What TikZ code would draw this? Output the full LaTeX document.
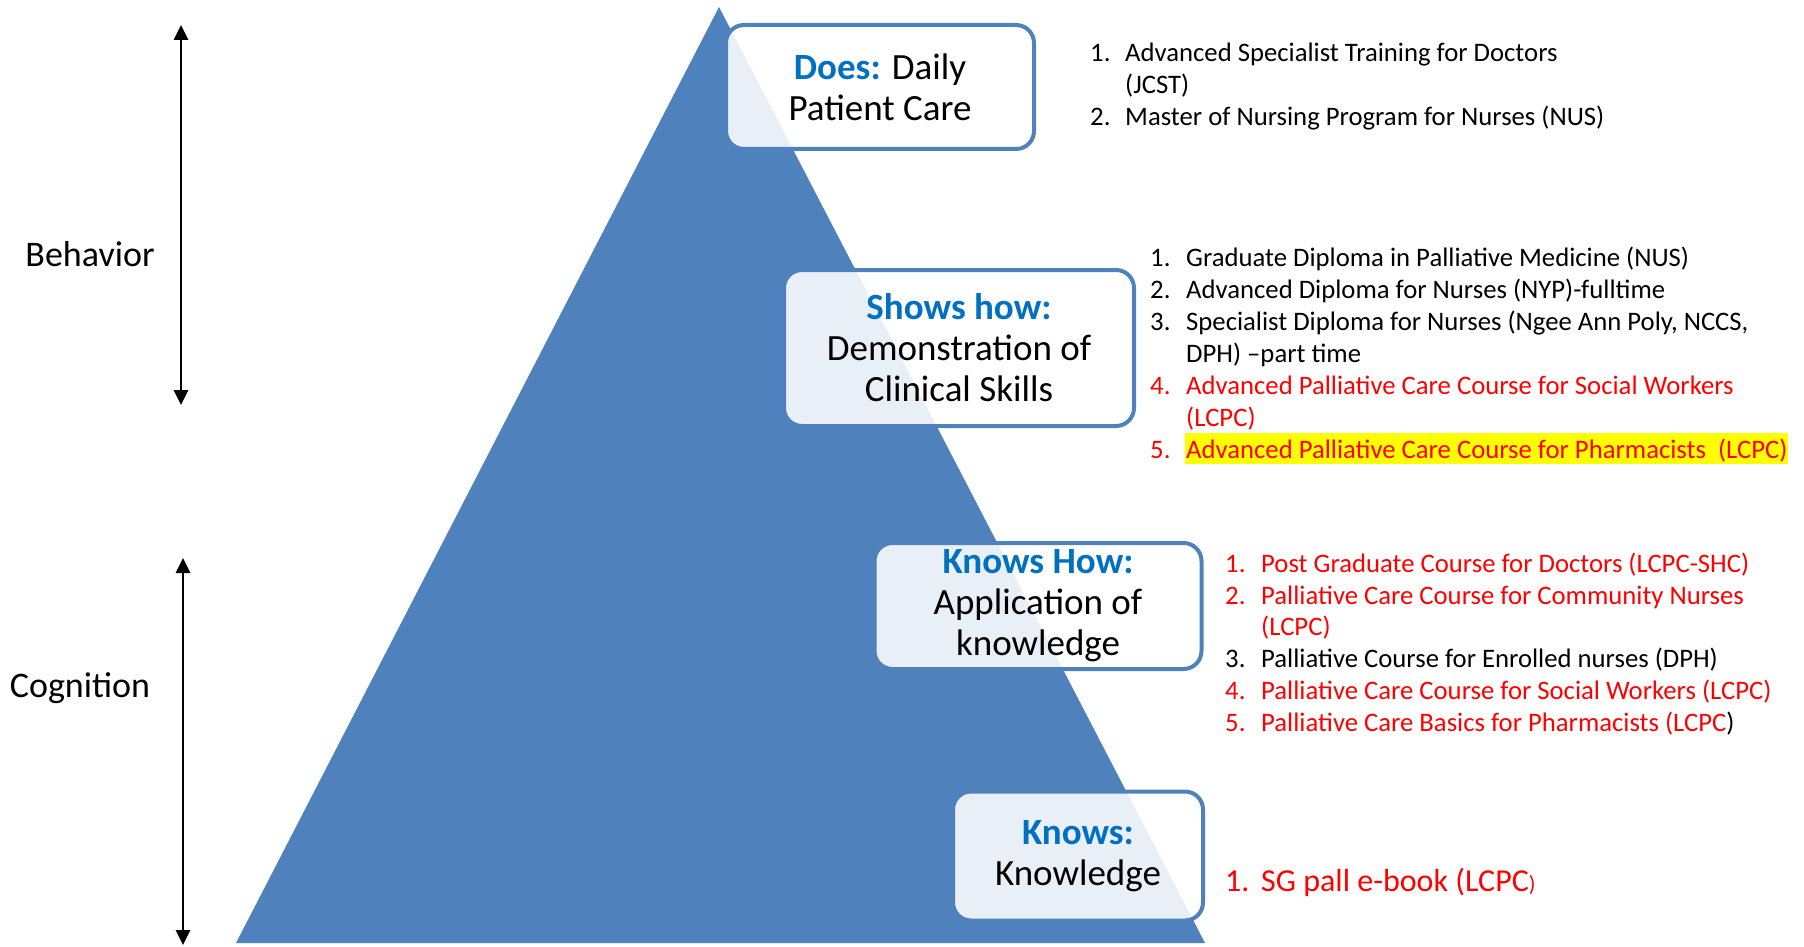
\documentclass[tikz,border=0pt]{standalone}
\usepackage{fontspec}
\setmainfont{Carlito}
\usetikzlibrary{arrows.meta}
\definecolor{triblue}{HTML}{4F81BD}
\definecolor{txtblue}{HTML}{0070C0}
\definecolor{txtred}{HTML}{FF0000}
\definecolor{hiyellow}{HTML}{FFFF00}
\newcommand{\boxfont}{\fontsize{37}{41}\selectfont}
\newcommand{\sidefont}{\fontsize{36}{41}\selectfont}
\newcommand{\listfont}{\fontsize{26.7}{32}\selectfont}
\newcommand{\bigfont}{\fontsize{32}{38}\selectfont}
\newcommand{\hd}[1]{{\color{txtblue}\bfseries #1}}
\begin{document}
\begin{tikzpicture}[x=1pt,y=-1pt,
  level/.style={draw=triblue, line width=4pt, rounded corners=18pt, fill=white,
    fill opacity=0.88, text opacity=1, align=center, font=\boxfont, inner sep=0pt},
  side/.style={font=\sidefont, inner sep=0pt},
  arr/.style={line width=2.6pt, {Triangle[length=15pt,width=14pt]}-{Triangle[length=15pt,width=14pt]}},
  item/.style={anchor=base west, inner sep=0pt, font=\listfont},
  bigitem/.style={anchor=base west, inner sep=0pt, font=\bigfont},
  red/.style={text=txtred}]
\useasboundingbox (0,0) rectangle (1804,947);
% pyramid
\path[fill=triblue] (719,7) -- (1205,943) -- (236,943) -- cycle;
% level boxes
\node[level, minimum width=308pt, minimum height=124pt] (does) at (880,87)
  {\hd{Does:} Daily\\Patient Care};
\node[level, minimum width=350pt, minimum height=156pt] (shows) at (959,348)
  {\hd{Shows how:}\\Demonstration of\\Clinical Skills};
\node[level, minimum width=327pt, minimum height=126pt] (knowshow) at (1038,606)
  {\hd{Knows How:}\\Application of\\knowledge};
\node[level, minimum width=250pt, minimum height=129pt] (knows) at (1078,856)
  {\hd{Knows:}\\Knowledge};
% side labels and arrows
\node[side] (behav) at (90,254) {Behavior};
\node[side] (cogn) at (80,688) {Cognition};
\coordinate (bt) at (181,25);
\coordinate (bb) at (181,405);
\coordinate (ct) at (183,558);
\coordinate (cb) at (183,945);
\draw[arr] (bt) -- (bb);
\draw[arr] (ct) -- (cb);
% list 1
\node[item] (a1n) at (1090,62) {1.};
\node[item] (a1) at (1125,62) {Advanced Specialist Training for Doctors};
\node[item] (a1b) at (1125,94) {(JCST)};
\node[item] (a2n) at (1090,126) {2.};
\node[item] (a2) at (1125,126) {Master of Nursing Program for Nurses (NUS)};
% list 2
\node[item] (b1n) at (1150,266) {1.};
\node[item] (b1) at (1186,266) {Graduate Diploma in Palliative Medicine (NUS)};
\node[item] (b2n) at (1150,298) {2.};
\node[item] (b2) at (1186,298) {Advanced Diploma for Nurses (NYP)-fulltime};
\node[item] (b3n) at (1150,330) {3.};
\node[item] (b3) at (1186,330) {Specialist Diploma for Nurses (Ngee Ann Poly, NCCS,};
\node[item] (b3b) at (1186,362) {DPH) --part time};
\node[item, red] (b4n) at (1150,394) {4.};
\node[item, red] (b4) at (1186,394) {Advanced Palliative Care Course for Social Workers};
\node[item, red] (b4b) at (1186,426) {(LCPC)};
\node[item, red] (b5n) at (1150,458) {5.};
\node[item, red, fill=hiyellow, inner ysep=0pt, inner xsep=1pt, text height=25pt, text depth=6pt] (b5) at (1185,458)
  {Advanced Palliative Care Course for Pharmacists~~(LCPC)};
% list 3
\node[item, red] (c1n) at (1225,572) {1.};
\node[item, red] (c1) at (1261,572) {Post Graduate Course for Doctors (LCPC-SHC)};
\node[item, red] (c2n) at (1225,604) {2.};
\node[item, red] (c2) at (1261,604) {Palliative Care Course for Community Nurses};
\node[item, red] (c2b) at (1261,635) {(LCPC)};
\node[item] (c3n) at (1225,667) {3.};
\node[item] (c3) at (1261,667) {Palliative Course for Enrolled nurses (DPH)};
\node[item, red] (c4n) at (1225,699) {4.};
\node[item, red] (c4) at (1261,699) {Palliative Care Course for Social Workers (LCPC)};
\node[item, red] (c5n) at (1225,731) {5.};
\node[item] (c5) at (1261,731) {\color{txtred}Palliative Care Basics for Pharmacists (LCPC\color{black})};
% list 4
\node[bigitem, red] (d1n) at (1225,891) {1.};
\node[bigitem, red] (d1) at (1261,891) {SG pall e-book (LCPC{\fontsize{22}{26}\selectfont )}};
\end{tikzpicture}
\end{document}
